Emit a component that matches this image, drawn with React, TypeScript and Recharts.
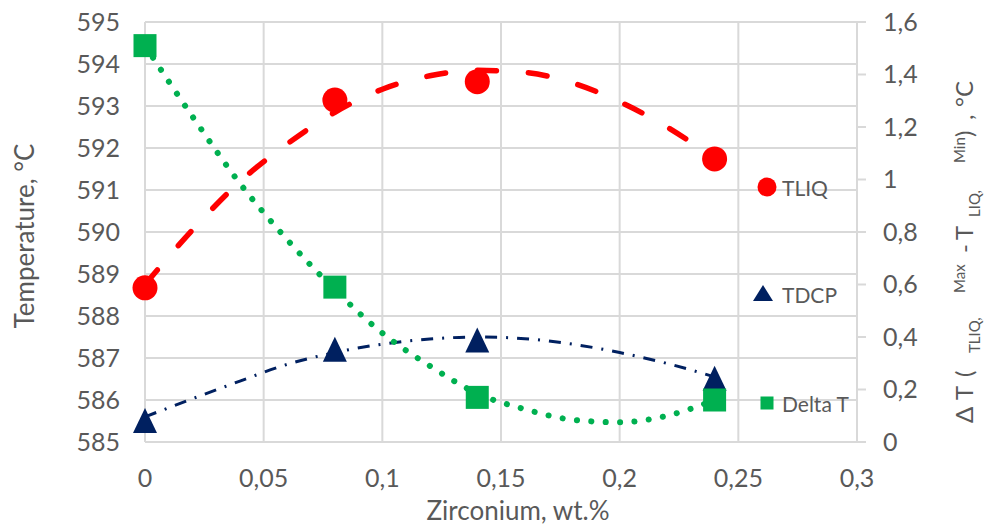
import React from 'react';
import { ComposedChart, Line, Scatter, XAxis, YAxis, CartesianGrid } from 'recharts';

// measured points
const zr = [0, 0.08, 0.14, 0.24];
const tliq = [588.67, 593.14, 593.58, 591.74];
const tdcp = [585.51, 587.21, 587.43, 586.52];
const deltaT = [1.51, 0.59, 0.17, 0.16];

// trendlines
const trendX = [0, 0.02, 0.04, 0.06, 0.08, 0.1, 0.12, 0.14, 0.16, 0.18, 0.2, 0.22, 0.24];
const tliqTrend = [588.75, 590.05, 591.2, 592.1, 592.85, 593.4, 593.72, 593.85, 593.8, 593.55, 593.1, 592.5, 591.75];
const tdcpTrend = [585.6, 586.03, 586.45, 586.85, 587.13, 587.33, 587.45, 587.5, 587.46, 587.33, 587.13, 586.87, 586.55];
const deltaTrend = [1.51, 1.24, 0.985, 0.77, 0.58, 0.415, 0.29, 0.185, 0.125, 0.085, 0.075, 0.1, 0.16];

const xTicks = [0, 0.05, 0.1, 0.15, 0.2, 0.25, 0.3];
const leftTicks = [585, 586, 587, 588, 589, 590, 591, 592, 593, 594, 595];
const rightTicks = [0, 0.2, 0.4, 0.6, 0.8, 1, 1.2, 1.4, 1.6];

const W = 993;
const H = 526;
const FONT = 'Lato, "Open Sans", sans-serif';
const GREY = '#595959';
const GRID = '#d9d9d9';
const RED = '#FF0000';
const NAVY = '#002060';
const GREEN = '#00B050';

const pts = (xs: number[], ys: number[]) => xs.map((x, i) => ({ x, y: ys[i] }));
const comma = (v: number) => String(v).replace('.', ',');

const CircleMark = (p: any) => <circle cx={p.cx} cy={p.cy} r={12.5} fill={RED} />;
const TriMark = (p: any) => (
  <polygon
    points={`${p.cx},${p.cy - 12.5} ${p.cx + 12},${p.cy + 12.5} ${p.cx - 12},${p.cy + 12.5}`}
    fill={NAVY}
  />
);
const SquareMark = (p: any) => <rect x={p.cx - 11.5} y={p.cy - 11.5} width={23} height={23} fill={GREEN} />;

const tickStyle = { fill: GREY, fontSize: 25, fontFamily: FONT };

// right title pieces: text, start (bottom) y, baseline shift, size
const titleParts: [string, number, number, number][] = [
  ['Δ', 423, 0, 24],
  ['T', 400, 0, 24],
  ['(', 377, 0, 24],
  ['TLIQ,', 353, 7, 15],
  ['Max', 293, -8, 15],
  ['-', 253, 0, 24],
  ['T', 240, 0, 24],
  ['LIQ,', 217, 7, 15],
  ['Min', 163, -8, 15],
  [')', 137, 0, 24],
  [',', 120, 0, 24],
  ['°C', 107, 0, 24],
];

function RightTitle() {
  return (
    <text transform="translate(973, 0) rotate(-90)" fill={GREY} fontFamily={FONT}>
      {titleParts.map(([t, y0, shift, size], i) => (
        <tspan key={i} x={-y0} y={shift} fontSize={size}>
          {t}
        </tspan>
      ))}
    </text>
  );
}

function LegendBox() {
  const txt = { fill: GREY, fontFamily: FONT, fontSize: 21, dominantBaseline: 'central' as const };
  return (
    <svg width={W} height={H} style={{ position: 'absolute', left: 0, top: 0, pointerEvents: 'none' }}>
      <circle cx={767} cy={187} r={9.5} fill={RED} />
      <text x={782} y={187} {...txt}>TLIQ</text>
      <polygon points="763,285 773,301 753,301" fill={NAVY} />
      <text x={782} y={294} {...txt}>TDCP</text>
      <rect x={760.5} y={396.5} width={13} height={13} fill={GREEN} />
      <text x={782} y={403} {...txt}>Delta T</text>
    </svg>
  );
}

export default function App() {
  return (
    <div style={{ position: 'absolute', left: 0, top: 0, width: W, height: H, fontFamily: FONT }}>
      <ComposedChart
        width={W}
        height={H}
        margin={{ top: 22, right: 0, bottom: 24, left: 8 }}
        style={{ overflow: 'visible' }}
      >
        <CartesianGrid yAxisId="left" stroke={GRID} strokeWidth={2} />
        <XAxis
          type="number"
          dataKey="x"
          domain={[0, 0.3]}
          ticks={xTicks}
          interval={0}
          tickFormatter={comma}
          height={60}
          tickLine={false}
          tickSize={0}
          tickMargin={27}
          axisLine={{ stroke: GRID, strokeWidth: 2 }}
          tick={tickStyle}
          label={{
            content: () => (
              <text x={518} y={520} textAnchor="middle" fill={GREY} fontFamily={FONT} fontSize={26}>
                Zirconium, wt.%
              </text>
            ),
          }}
        />
        <YAxis
          yAxisId="left"
          domain={[585, 595]}
          ticks={leftTicks}
          interval={0}
          width={137}
          axisLine={false}
          tickLine={false}
          tickSize={0}
          tickMargin={25}
          tick={tickStyle}
          label={{
            content: () => (
              <text
                x={24}
                y={236}
                transform="rotate(-90, 24, 236)"
                textAnchor="middle"
                dominantBaseline="central"
                fill={GREY}
                fontFamily={FONT}
                fontSize={26}
              >
                Temperature, °C
              </text>
            ),
          }}
        />
        <YAxis
          yAxisId="right"
          orientation="right"
          domain={[0, 1.6]}
          ticks={rightTicks}
          interval={0}
          width={136}
          tickFormatter={comma}
          axisLine={{ stroke: GRID, strokeWidth: 2 }}
          tickLine={{ stroke: GRID, strokeWidth: 2 }}
          tickSize={9}
          tickMargin={17}
          tick={tickStyle}
          label={{ content: () => <RightTitle /> }}
        />

        <Scatter yAxisId="left" data={pts(zr, tliq)} dataKey="y" shape={CircleMark} isAnimationActive={false} />
        <Scatter yAxisId="left" data={pts(zr, tdcp)} dataKey="y" shape={TriMark} isAnimationActive={false} />
        <Scatter yAxisId="right" data={pts(zr, deltaT)} dataKey="y" shape={SquareMark} isAnimationActive={false} />

        <Line
          yAxisId="left"
          data={pts(trendX, tliqTrend)}
          dataKey="y"
          type="monotone"
          stroke={RED}
          strokeWidth={5.5}
          strokeDasharray="19 32"
          strokeLinecap="round"
          dot={false}
          activeDot={false}
          isAnimationActive={false}
        />
        <Line
          yAxisId="left"
          data={pts(trendX, tdcpTrend)}
          dataKey="y"
          type="monotone"
          stroke={NAVY}
          strokeWidth={3}
          strokeDasharray="12 9 2 9"
          dot={false}
          activeDot={false}
          isAnimationActive={false}
        />
        <Line
          yAxisId="right"
          data={pts(trendX, deltaTrend)}
          dataKey="y"
          type="monotone"
          stroke={GREEN}
          strokeWidth={6}
          strokeDasharray="0.1 14.3"
          strokeLinecap="round"
          dot={false}
          activeDot={false}
          isAnimationActive={false}
        />
      </ComposedChart>
      <LegendBox />
    </div>
  );
}
